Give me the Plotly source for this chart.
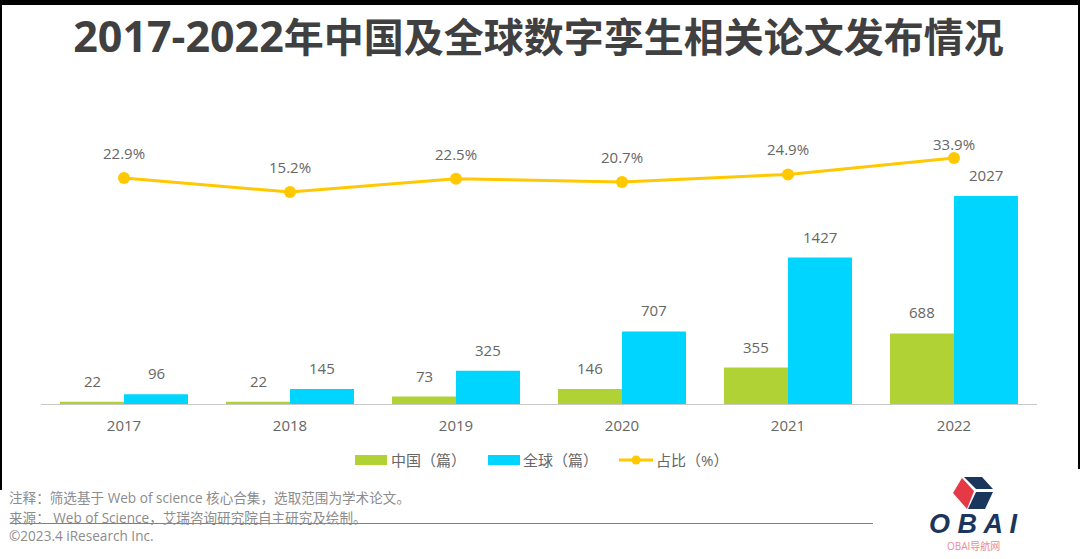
import plotly.graph_objects as go

W, H = 1080, 559
# Área do gráfico em pixels da imagem.
ESQ, DIR, TOPO, BASE = 41, 1037, 100, 404
FONT = "Open Sans, Noto Sans CJK SC, sans-serif"
GREY = "#666666"
GREEN = "#B0D235"
BLUE = "#00D5FF"
YELLOW = "#FFC800"
NAVY = "#1B365D"

# Dados do gráfico.
anos = ["2017", "2018", "2019", "2020", "2021", "2022"]
china = [22, 22, 73, 146, 355, 688]
mundo = [96, 145, 325, 707, 1427, 2027]
ratio = [22.9, 15.2, 22.5, 20.7, 24.9, 33.9]

titulo_anos = "2017-2022"
titulo_resto = "年中国及全球数字孪生相关论文发布情况"
notas = ["注释：筛选基于 Web of science 核心合集，选取范围为学术论文。",
         "来源： Web of Science，艾瑞咨询研究院自主研究及绘制。",
         "©2023.4 iResearch Inc."]
legenda = ["中国（篇）", "全球（篇）", "占比（%）"]


# Converte pixels da imagem para coordenadas paper.
def px(x):
    return (x - ESQ) / (DIR - ESQ)


def py(y):
    return (BASE - y) / (BASE - TOPO)


def caminho(pontos):
    return "M" + " L".join(f"{px(x):.5f},{py(y):.5f}" for x, y in pontos) + " Z"


def texto_livre(x, y, texto, tamanho, cor, ancora="left", familia=FONT):
    return dict(xref="paper", yref="paper", x=px(x), y=py(y), text=texto, showarrow=False,
                xanchor=ancora, yanchor="middle", font=dict(family=familia, size=tamanho, color=cor))


fig = go.Figure()
fig.add_bar(x=anos, y=china, name=legenda[0], marker=dict(color=GREEN, line_width=0))
fig.add_bar(x=anos, y=mundo, name=legenda[1], marker=dict(color=BLUE, line_width=0))
fig.add_scatter(x=anos, y=ratio, name=legenda[2], yaxis="y2", mode="lines+markers",
                line=dict(color=YELLOW, width=3), marker=dict(color=YELLOW, size=12))

anotacoes = []
# Rótulos das barras e da linha. O x é o índice, pois "2017" viraria número no eixo de categorias.
for i, ano in enumerate(anos):
    anotacoes.append(dict(x=i, y=china[i], text=str(china[i]), xshift=-32, yshift=21))
    anotacoes.append(dict(x=i, y=mundo[i], text=str(mundo[i]), xshift=32, yshift=21))
    anotacoes.append(dict(x=i, y=ratio[i], yref="y2", text=f"{ratio[i]}%",
                          yshift=14 if ano == "2022" else 25))
for a in anotacoes:
    a.update(showarrow=False, yanchor="middle", font=dict(family=FONT, size=15, color=GREY))

# Legenda desenhada à mão, as amostras das barras são retângulos largos.
for x, nome in zip([389, 521, 654], legenda):
    anotacoes.append(texto_livre(x, 460, nome, 15, GREY))

# Notas de rodapé.
for texto, y in zip(notas, [497, 517, 535]):
    anotacoes.append(texto_livre(7, y, texto, 13.6, "#8C8C8C"))

# Logo.
anotacoes.append(texto_livre(973, 524, "<b><i>O B A I</i></b>", 27, NAVY, "center",
                             "Liberation Sans, sans-serif"))
anotacoes.append(texto_livre(973, 546, "OBAI导航网", 10, "#EE8A92", "center"))

formas = []


def retangulo(x0, y0, x1, y1, cor):
    formas.append(dict(type="rect", xref="paper", yref="paper", x0=px(x0), x1=px(x1), y0=py(y1), y1=py(y0),
                       fillcolor=cor, line_width=0, layer="above"))


# Moldura preta que vem do recorte da imagem original.
retangulo(0, 0, W, 5, "#000000")
retangulo(0, 0, 2, 490, "#000000")
retangulo(1078, 0, W, 469, "#000000")

# Amostras da legenda.
retangulo(355, 455, 387, 465, GREEN)
retangulo(488, 455, 520, 465, BLUE)
formas.append(dict(type="line", xref="paper", yref="paper", x0=px(619), x1=px(653), y0=py(460), y1=py(460),
                   line=dict(color=YELLOW, width=3)))
formas.append(dict(type="circle", xref="paper", yref="paper", x0=px(631.5), x1=px(640.5), y0=py(464.5), y1=py(455.5),
                   fillcolor=YELLOW, line_width=0))

# Linha do rodapé.
formas.append(dict(type="line", xref="paper", yref="paper", x0=px(10), x1=px(873), y0=py(523.5), y1=py(523.5),
                   line=dict(color="#808080", width=1)))

# Cubo do logo.
for pontos, cor in [([(962, 478), (974, 491), (967, 509), (953, 493)], "#E63946"),
                    ([(964, 477), (982, 477), (993, 489), (976, 489)], NAVY),
                    ([(976, 492), (993, 492), (985, 509), (968, 509)], NAVY)]:
    formas.append(dict(type="path", xref="paper", yref="paper", path=caminho(pontos),
                       fillcolor=cor, line_width=0))

fig.update_layout(
    width=W, height=H,
    margin=dict(l=ESQ, r=W - DIR, t=TOPO, b=H - BASE, autoexpand=False),
    paper_bgcolor="white", plot_bgcolor="white",
    showlegend=False,
    barmode="group", bargap=0.229, bargroupgap=0,
    # Os algarismos do título são um pouco maiores que os caracteres chineses.
    title=dict(text=f'<b><span style="font-size:43px">{titulo_anos}</span>{titulo_resto}</b>',
               x=538.5 / W, y=1 - 38 / H, xanchor="center", yanchor="middle",
               font=dict(family=FONT, size=40, color="#404040")),
    xaxis=dict(type="category", range=[-0.5, 5.5], showgrid=False, zeroline=False, showline=True,
               linecolor="#C8C8C8", linewidth=1,
               ticks="outside", ticklen=8, tickcolor="rgba(0,0,0,0)",
               tickfont=dict(family=FONT, size=15, color=GREY)),
    yaxis=dict(range=[0, 2963], visible=False),
    yaxis2=dict(range=[-101.3, 65.8], overlaying="y", side="right", visible=False),
    annotations=anotacoes,
    shapes=formas,
)

fig.write_html("out.html", config={"displayModeBar": False}, post_script="document.body.style.margin='0';")
